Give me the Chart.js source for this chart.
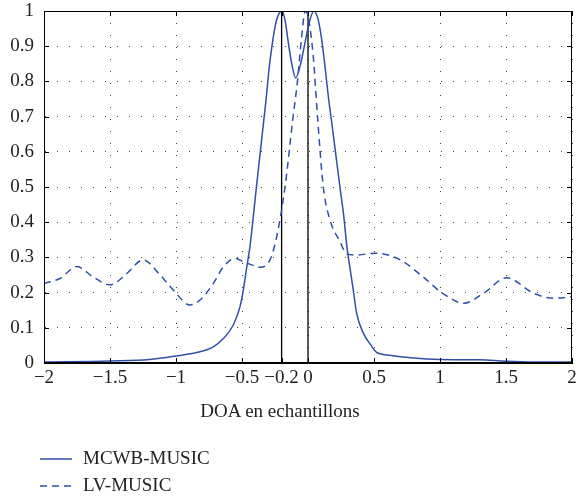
<!DOCTYPE html>
<html>
<head>
<meta charset="utf-8">
<script src="https://cdn.jsdelivr.net/npm/chart.js@4/dist/chart.umd.min.js"></script>
<style>
  html, body { margin: 0; padding: 0; background: #fff; }
  #wrap { position: relative; width: 578px; height: 496px; font-family: 'Liberation Serif', 'DejaVu Serif', serif; color: #222; }
  #c { position: absolute; left: 0; top: 0; }
  #xtitle { position: absolute; left: 0; width: 560px; top: 400px; text-align: center; font-size: 19px; line-height: 22px; }
  .leg { position: absolute; left: 40px; font-size: 19px; line-height: 22px; white-space: nowrap; }
  .leg svg { position: absolute; left: 0; top: 11px; }
  .leg span { position: absolute; left: 43px; top: 0; }
</style>
</head>
<body>
<div id="wrap">
  <canvas id="c" width="578" height="496"></canvas>
  <div id="xtitle">DOA en echantillons</div>
  <div class="leg" style="top:447px"><svg width="32" height="2"><line x1="0" y1="1" x2="32" y2="1" stroke="#3050a8" stroke-width="1.5"/></svg><span>MCWB-MUSIC</span></div>
  <div class="leg" style="top:474px"><svg width="32" height="2"><line x1="0" y1="1" x2="32" y2="1" stroke="#3050a8" stroke-width="1.5" stroke-dasharray="7,5"/></svg><span>LV-MUSIC</span></div>
</div>
<script>
// ---- data ----
const seriesNames = ['MCWB-MUSIC', 'LV-MUSIC'];

const mcwbX = [-2, -1.5, -1.2, -1.0, -0.818, -0.72, -0.64, -0.566, -0.515, -0.49, -0.465, -0.44, -0.389, -0.343, -0.318, -0.293, -0.27, -0.25, -0.23, -0.2, -0.174, -0.149, -0.124, -0.093, -0.061, -0.023, 0.008, 0.045, 0.078, 0.104, 0.129, 0.154, 0.187, 0.242, 0.27, 0.295, 0.32, 0.343, 0.369, 0.419, 0.482, 0.52, 0.62, 0.8, 1.0, 1.3, 1.5, 1.7, 2.0];
const mcwbY = [0.003, 0.006, 0.01, 0.02, 0.032, 0.045, 0.07, 0.108, 0.16, 0.207, 0.27, 0.33, 0.506, 0.662, 0.747, 0.842, 0.908, 0.955, 0.984, 1.0, 0.974, 0.91, 0.852, 0.81, 0.842, 0.909, 0.966, 1.0, 0.974, 0.918, 0.842, 0.757, 0.662, 0.50, 0.42, 0.33, 0.265, 0.207, 0.14, 0.085, 0.048, 0.03, 0.022, 0.014, 0.01, 0.009, 0.005, 0.003, 0.003];

const lvX = [-2, -1.88, -1.75, -1.63, -1.5, -1.37, -1.25, -1.12, -1.02, -0.894, -0.818, -0.717, -0.64, -0.553, -0.49, -0.42, -0.364, -0.288, -0.237, -0.174, -0.116, -0.08, -0.05, -0.02, 0.003, 0.04, 0.072, 0.116, 0.167, 0.242, 0.293, 0.369, 0.508, 0.7, 0.87, 1.02, 1.18, 1.33, 1.505, 1.71, 1.86, 2.0];
const lvY = [0.226, 0.24, 0.274, 0.245, 0.222, 0.255, 0.293, 0.25, 0.207, 0.165, 0.179, 0.226, 0.274, 0.297, 0.288, 0.278, 0.272, 0.293, 0.359, 0.50, 0.69, 0.80, 0.92, 1.0, 0.98, 0.87, 0.70, 0.50, 0.406, 0.345, 0.31, 0.307, 0.312, 0.293, 0.245, 0.198, 0.17, 0.198, 0.242, 0.198, 0.184, 0.188];

const sourcePositions = [-0.2, 0];
const xTicks = [-2, -1.5, -1, -0.5, -0.2, 0, 0.5, 1, 1.5, 2];
const yTicks = [0, 0.1, 0.2, 0.3, 0.4, 0.5, 0.6, 0.7, 0.8, 0.9, 1];

// ---- build ----
const blue = '#3050a8';
const toPts = (xs, ys) => xs.map((x, i) => ({ x: x, y: ys[i] }));

const datasets = [
  { label: seriesNames[0], data: toPts(mcwbX, mcwbY), borderColor: blue, borderWidth: 1.5, pointRadius: 0, tension: 0.4, cubicInterpolationMode: 'monotone', fill: false },
  { label: seriesNames[1], data: toPts(lvX, lvY), borderColor: blue, borderWidth: 1.5, borderDash: [7, 5], pointRadius: 0, tension: 0.4, cubicInterpolationMode: 'monotone', fill: false }
];
sourcePositions.forEach(p => {
  datasets.push({ label: 'source', data: [{ x: p, y: 0 }, { x: p, y: 1 }], borderColor: '#000', borderWidth: 1.3, pointRadius: 0, tension: 0, fill: false });
});

const fmt = v => {
  const r = Math.round(v * 10) / 10;
  return r < 0 ? '\u2212' + String(Math.abs(r)) : String(r);
};

const frame = {
  id: 'frame',
  afterDatasetsDraw(chart) {
    const { ctx, chartArea: a, scales } = chart;
    ctx.save();
    ctx.strokeStyle = '#000';
    ctx.lineWidth = 1;
    ctx.setLineDash([]);
    ctx.strokeRect(a.left + 0.5, a.top + 0.5, a.right - a.left - 1, a.bottom - a.top - 1);
    const L = 5;
    ctx.beginPath();
    scales.x.ticks.forEach(t => {
      const px = Math.round(scales.x.getPixelForValue(t.value)) + 0.5;
      ctx.moveTo(px, a.bottom); ctx.lineTo(px, a.bottom - L);
      ctx.moveTo(px, a.top); ctx.lineTo(px, a.top + L);
    });
    scales.y.ticks.forEach(t => {
      const py = Math.round(scales.y.getPixelForValue(t.value)) + 0.5;
      ctx.moveTo(a.left, py); ctx.lineTo(a.left + L, py);
      ctx.moveTo(a.right, py); ctx.lineTo(a.right - L, py);
    });
    ctx.stroke();
    ctx.restore();
  }
};

new Chart(document.getElementById('c'), {
  type: 'line',
  data: { datasets: datasets },
  options: {
    responsive: false,
    animation: false,
    layout: { padding: { top: 11, right: 6, left: 0, bottom: 0 } },
    plugins: { legend: { display: false }, tooltip: { enabled: false } },
    scales: {
      x: {
        type: 'linear', min: -2, max: 2,
        afterBuildTicks: s => { s.ticks = xTicks.map(v => ({ value: v })); },
        afterFit: s => { s.height = 133; s.paddingLeft = 0; s.paddingRight = 0; },
        ticks: { autoSkip: false, maxRotation: 0, padding: 4, color: '#222', font: { family: 'Liberation Serif', size: 19 }, callback: v => fmt(v) },
        grid: { drawTicks: false, color: '#444', lineWidth: 1 },
        border: { display: true, color: '#000', dash: [1, 11], dashOffset: 0 }
      },
      y: {
        type: 'linear', min: 0, max: 1,
        afterBuildTicks: s => { s.ticks = yTicks.map(v => ({ value: v })); },
        afterFit: s => { s.width = 44; s.paddingTop = 0; s.paddingBottom = 0; },
        ticks: { autoSkip: false, padding: 10, color: '#222', font: { family: 'Liberation Serif', size: 19 }, callback: v => fmt(v) },
        grid: { drawTicks: false, color: '#444', lineWidth: 1 },
        border: { display: true, color: '#000', dash: [1, 11], dashOffset: 0 }
      }
    }
  },
  plugins: [frame]
});
</script>
</body>
</html>
